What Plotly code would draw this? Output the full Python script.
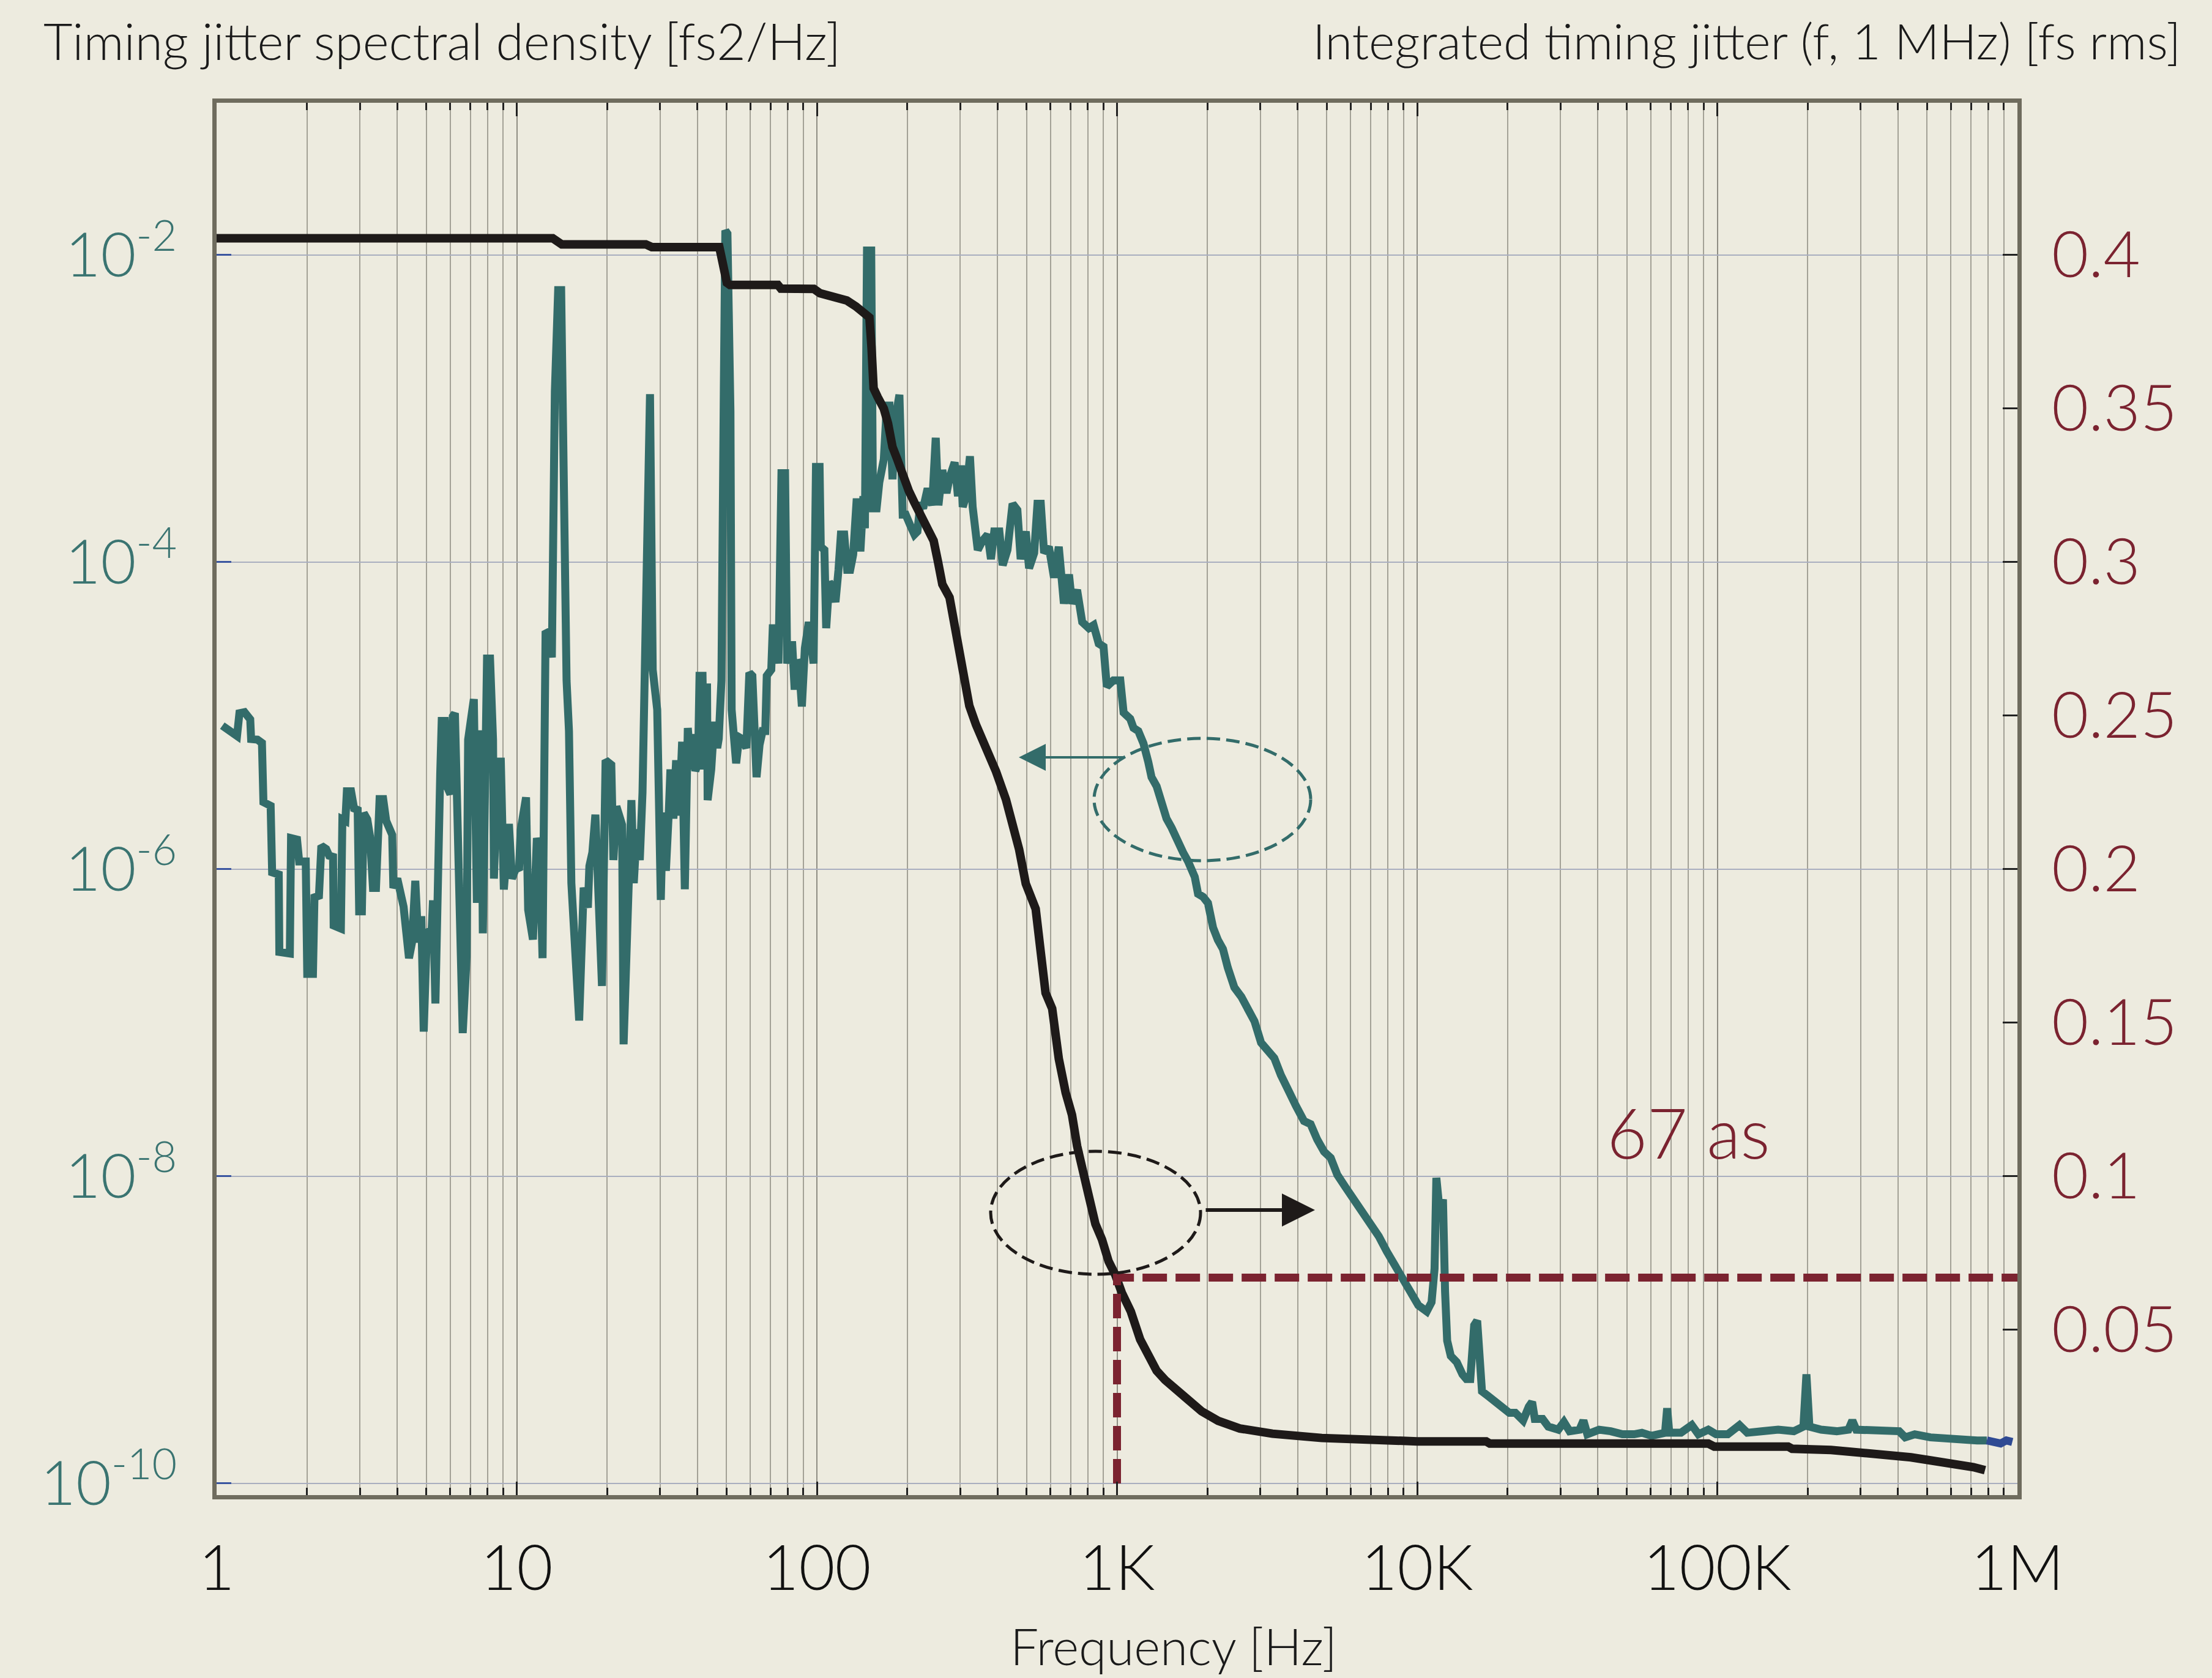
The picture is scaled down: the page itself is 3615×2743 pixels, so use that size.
import plotly.graph_objects as go

# ---------------- data ----------------
# Timing jitter spectral density: log10(frequency / Hz) and log10(PSD / fs^2/Hz)
psd_freq_decade = [
    0.019, 0.039, 0.068, 0.076, 0.093, 0.112, 0.115, 0.136, 0.151, 0.156,
    0.180, 0.185, 0.207, 0.209, 0.244, 0.248, 0.268, 0.275, 0.297, 0.302,
    0.321, 0.326, 0.341, 0.349, 0.365, 0.375, 0.388, 0.390, 0.414, 0.419,
    0.429, 0.434, 0.448, 0.458, 0.470, 0.475, 0.484, 0.490, 0.502, 0.511,
    0.521, 0.531, 0.543, 0.555, 0.565, 0.585, 0.589, 0.602, 0.614, 0.623,
    0.641, 0.651, 0.662, 0.672, 0.682, 0.690, 0.701, 0.716, 0.721, 0.729,
    0.745, 0.750, 0.760, 0.770, 0.779, 0.787, 0.794, 0.813, 0.820, 0.833,
    0.838, 0.857, 0.867, 0.877, 0.882, 0.887, 0.901, 0.911, 0.921, 0.924,
    0.937, 0.947, 0.957, 0.974, 0.984, 0.996, 1.008, 1.013, 1.031, 1.038,
    1.054, 1.067, 1.076, 1.086, 1.096, 1.106, 1.117, 1.127, 1.138, 1.148,
    1.155, 1.166, 1.174, 1.182, 1.208, 1.223, 1.237, 1.242, 1.252, 1.262,
    1.284, 1.296, 1.315, 1.322, 1.332, 1.351, 1.356, 1.382, 1.390, 1.400,
    1.410, 1.419, 1.444, 1.453, 1.468, 1.473, 1.480, 1.487, 1.497, 1.507,
    1.512, 1.522, 1.531, 1.541, 1.551, 1.560, 1.570, 1.580, 1.585, 1.595,
    1.604, 1.609, 1.619, 1.624, 1.634, 1.636, 1.648, 1.658, 1.668, 1.673,
    1.682, 1.690, 1.695, 1.702, 1.712, 1.716, 1.721, 1.731, 1.741, 1.750,
    1.765, 1.775, 1.785, 1.790, 1.799, 1.809, 1.819, 1.828, 1.833, 1.848,
    1.853, 1.862, 1.872, 1.882, 1.894, 1.901, 1.911, 1.918, 1.926, 1.934,
    1.940, 1.950, 1.960, 1.973, 1.989, 1.997, 2.009, 2.013, 2.025, 2.031,
    2.041, 2.051, 2.062, 2.072, 2.080, 2.091, 2.101, 2.111, 2.121, 2.132,
    2.140, 2.145, 2.155, 2.160, 2.167, 2.181, 2.187, 2.199, 2.208, 2.223,
    2.233, 2.242, 2.252, 2.262, 2.275, 2.286, 2.296, 2.311, 2.325, 2.335,
    2.345, 2.354, 2.369, 2.384, 2.396, 2.405, 2.418, 2.432, 2.442, 2.459,
    2.470, 2.480, 2.486, 2.497, 2.510, 2.519, 2.536, 2.552, 2.569, 2.580,
    2.591, 2.608, 2.619, 2.635, 2.652, 2.668, 2.679, 2.696, 2.707, 2.724,
    2.735, 2.746, 2.757, 2.773, 2.790, 2.806, 2.823, 2.840, 2.850, 2.867,
    2.884, 2.906, 2.922, 2.939, 2.955, 2.966, 2.988, 3.011, 3.022, 3.044,
    3.055, 3.071, 3.088, 3.104, 3.115, 3.132, 3.149, 3.165, 3.182, 3.198,
    3.220, 3.237, 3.259, 3.270, 3.287, 3.303, 3.320, 3.336, 3.353, 3.369,
    3.391, 3.414, 3.436, 3.458, 3.480, 3.502, 3.524, 3.546, 3.568, 3.596,
    3.623, 3.645, 3.667, 3.690, 3.712, 3.734, 3.761, 3.789, 3.817, 3.844,
    3.872, 3.899, 3.927, 3.955, 3.982, 4.004, 4.032, 4.048, 4.058, 4.064,
    4.076, 4.086, 4.093, 4.100, 4.112, 4.132, 4.151, 4.164, 4.177, 4.190,
    4.200, 4.210, 4.216, 4.236, 4.255, 4.281, 4.307, 4.327, 4.353, 4.372,
    4.383, 4.392, 4.418, 4.437, 4.470, 4.489, 4.508, 4.541, 4.554, 4.567,
    4.606, 4.645, 4.684, 4.723, 4.749, 4.781, 4.814, 4.826, 4.833, 4.840,
    4.879, 4.915, 4.937, 4.970, 4.996, 5.035, 5.074, 5.100, 5.152, 5.203,
    5.255, 5.287, 5.297, 5.307, 5.346, 5.398, 5.437, 5.450, 5.463, 5.528,
    5.606, 5.626, 5.658, 5.710, 5.762, 5.814, 5.866, 5.898,
]
psd_level_decade = [
    -5.065, -5.095, -5.132, -4.984, -4.977, -5.024, -5.152, -5.156, -5.177, -5.563,
    -5.587, -6.020, -6.034, -6.539, -6.549, -5.797, -5.807, -5.949, -5.949, -6.681,
    -6.681, -6.183, -6.173, -5.847, -5.868, -5.912, -5.919, -6.366, -6.386, -5.675,
    -5.685, -5.492, -5.492, -5.604, -5.614, -6.274, -6.274, -5.634, -5.675, -5.786,
    -6.122, -6.122, -5.543, -5.543, -5.685, -5.776, -6.122, -6.061, -6.152, -6.244,
    -6.579, -6.477, -6.075, -6.477, -6.305, -7.057, -6.396, -6.417, -6.203, -6.874,
    -5.380, -5.034, -5.034, -5.471, -5.512, -5.004, -4.984, -6.356, -7.067, -6.569,
    -5.156, -4.892, -6.193, -6.193, -5.095, -6.417, -4.628, -4.628, -5.156, -6.061,
    -5.299, -5.299, -6.132, -5.705, -6.061, -6.000, -5.990, -5.746, -5.532, -6.264,
    -6.457, -5.797, -5.868, -6.579, -4.465, -4.455, -4.620, -2.888, -2.228, -2.228,
    -3.284, -4.770, -5.100, -6.090, -6.985, -6.120, -6.250, -5.980, -5.890, -5.645,
    -6.760, -5.290, -5.320, -5.940, -5.590, -5.710, -7.140, -5.550, -6.090, -5.740,
    -5.940, -5.500, -2.906, -4.700, -4.960, -5.990, -6.200, -5.630, -6.010, -5.610,
    -5.350, -5.670, -5.290, -5.650, -5.170, -6.130, -5.080, -5.350, -5.120, -5.360,
    -5.310, -4.740, -4.740, -5.350, -4.790, -5.550, -5.350, -5.040, -5.210, -5.150,
    -4.770, -2.870, -1.840, -1.860, -3.020, -4.960, -5.060, -5.310, -5.140, -5.150,
    -5.210, -4.720, -4.740, -4.960, -5.400, -5.190, -5.100, -5.100, -4.740, -4.700,
    -4.430, -4.430, -4.660, -3.420, -3.420, -4.660, -4.540, -4.540, -4.830, -4.640,
    -4.660, -4.940, -4.560, -4.390, -4.660, -3.380, -3.380, -3.900, -3.920, -4.430,
    -4.130, -4.160, -4.260, -4.050, -3.820, -3.820, -4.050, -4.050, -3.950, -3.610,
    -3.610, -3.930, -3.570, -3.780, -1.970, -1.970, -3.650, -3.650, -3.480, -3.330,
    -2.980, -2.980, -3.460, -3.060, -2.910, -3.690, -3.690, -3.760, -3.820, -3.800,
    -3.610, -3.650, -3.520, -3.630, -3.190, -3.630, -3.400, -3.550, -3.450, -3.350,
    -3.570, -3.370, -3.640, -3.570, -3.310, -3.640, -3.920, -3.860, -3.820, -3.980,
    -3.800, -3.800, -4.020, -3.920, -3.620, -3.660, -3.980, -3.800, -4.040, -3.940,
    -3.620, -3.620, -3.940, -3.900, -4.100, -3.900, -4.270, -4.080, -4.270, -4.180,
    -4.390, -4.430, -4.410, -4.530, -4.550, -4.810, -4.770, -4.770, -4.980, -5.020,
    -5.080, -5.100, -5.180, -5.300, -5.400, -5.460, -5.570, -5.670, -5.730, -5.810,
    -5.890, -5.950, -6.050, -6.160, -6.180, -6.220, -6.380, -6.460, -6.520, -6.640,
    -6.770, -6.830, -6.910, -6.990, -7.130, -7.190, -7.230, -7.340, -7.440, -7.540,
    -7.640, -7.660, -7.760, -7.840, -7.880, -7.990, -8.070, -8.150, -8.250, -8.310,
    -8.390, -8.490, -8.580, -8.660, -8.760, -8.840, -8.880, -8.820, -8.600, -8.010,
    -8.250, -8.150, -8.750, -9.070, -9.170, -9.210, -9.290, -9.320, -9.320, -8.970,
    -8.940, -9.320, -9.400, -9.430, -9.460, -9.500, -9.540, -9.540, -9.590, -9.500,
    -9.470, -9.580, -9.580, -9.630, -9.650, -9.600, -9.660, -9.650, -9.590, -9.680,
    -9.650, -9.660, -9.680, -9.680, -9.670, -9.690, -9.670, -9.670, -9.510, -9.670,
    -9.670, -9.620, -9.680, -9.650, -9.680, -9.680, -9.620, -9.670, -9.660, -9.650,
    -9.660, -9.630, -9.290, -9.630, -9.650, -9.660, -9.650, -9.590, -9.650, -9.650,
    -9.660, -9.700, -9.680, -9.700, -9.710, -9.710, -9.720, -9.720,
]
# last short stretch of the spectrum drawn in dark blue
psd_tail_freq_decade = [5.898, 5.918, 5.944, 5.963, 5.983]
psd_tail_level_decade = [-9.72, -9.73, -9.74, -9.72, -9.73]

# Integrated timing jitter (f, 1 MHz) [fs rms]
jitter_freq_decade = [
    0.000, 1.120, 1.150, 1.430, 1.450, 1.675, 1.685, 1.700, 1.710, 1.870,
    1.880, 1.990, 2.010, 2.060, 2.100, 2.130, 2.160, 2.175, 2.182, 2.189,
    2.203, 2.223, 2.237, 2.252, 2.267, 2.286, 2.306, 2.325, 2.345, 2.364,
    2.389, 2.403, 2.418, 2.442, 2.464, 2.486, 2.508, 2.530, 2.563, 2.597,
    2.630, 2.652, 2.674, 2.696, 2.729, 2.746, 2.762, 2.784, 2.806, 2.829,
    2.850, 2.867, 2.884, 2.906, 2.928, 2.950, 2.972, 2.994, 3.016, 3.046,
    3.077, 3.104, 3.132, 3.160, 3.193, 3.228, 3.282, 3.337, 3.409, 3.518,
    3.682, 3.846, 4.000, 4.230, 4.242, 4.970, 4.990, 5.236, 5.249, 5.379,
    5.502, 5.580, 5.645, 5.710, 5.762, 5.814, 5.853, 5.892,
]
jitter_fs = [
    0.4055, 0.4055, 0.4035, 0.4035, 0.4026, 0.4026, 0.3980, 0.3910, 0.3903, 0.3903,
    0.3891, 0.3890, 0.3876, 0.3866, 0.3852, 0.3833, 0.3812, 0.3797, 0.3700, 0.3566,
    0.3537, 0.3500, 0.3452, 0.3375, 0.3337, 0.3280, 0.3233, 0.3194, 0.3156, 0.3118,
    0.3070, 0.3004, 0.2928, 0.2885, 0.2766, 0.2654, 0.2532, 0.2471, 0.2400, 0.2318,
    0.2227, 0.2156, 0.2064, 0.1953, 0.1871, 0.1729, 0.1597, 0.1546, 0.1383, 0.1272,
    0.1200, 0.1099, 0.1018, 0.0936, 0.0845, 0.0794, 0.0723, 0.0680, 0.0621, 0.0560,
    0.0469, 0.0418, 0.0367, 0.0337, 0.0306, 0.0280, 0.0235, 0.0204, 0.0179, 0.0162,
    0.0148, 0.0140, 0.0137, 0.0137, 0.0130, 0.0130, 0.0120, 0.0120, 0.0113, 0.0109,
    0.0099, 0.0092, 0.0085, 0.0075, 0.0068, 0.0060, 0.0053, 0.0043,
]

# 67 as marker at 1 kHz
marker_freq_hz = [1000, 1000, 1.0e6]
marker_jitter_fs = [0.0, 0.067, 0.067]
marker_label = "67 as"

x_tick_vals = [1, 10, 100, 1e3, 1e4, 1e5, 1e6]
x_tick_text = ["1", "10", "100", "1K", "10K", "100K", "1M"]
y_tick_vals = [1e-2, 1e-4, 1e-6, 1e-8, 1e-10]
y_tick_text = ["10<sup>-2</sup>", "10<sup>-4</sup>", "10<sup>-6</sup>",
               "10<sup>-8</sup>", "10<sup>-10</sup>"]
y2_tick_vals = [0.05, 0.1, 0.15, 0.2, 0.25, 0.3, 0.35, 0.4]
y2_tick_text = ["0.05", "0.1", "0.15", "0.2", "0.25", "0.3", "0.35", "0.4"]

assert len(psd_freq_decade) == len(psd_level_decade)
assert len(jitter_freq_decade) == len(jitter_fs)

psd_freq = [10 ** d for d in psd_freq_decade]
psd_val = [10 ** d for d in psd_level_decade]
tail_freq = [10 ** d for d in psd_tail_freq_decade]
tail_val = [10 ** d for d in psd_tail_level_decade]
jit_freq = [10 ** d for d in jitter_freq_decade]

# ---------------- style ----------------
BG = "#EDEBDF"
TEAL = "#336C6A"
BLACK = "#1E1A19"
RED = "#7B2330"
FRAME = "#6F6C5E"
FONT = "Lato, 'Open Sans', sans-serif"

W, H = 3615, 2743
L, R, T, B = 354, 318, 168, 299
PW, PH = W - L - R, H - T - B


def px(X):
    return (X - L) / PW


def py(Y):
    return (H - B - Y) / PH


minor_x = [m * 10 ** e for e in range(0, 6) for m in range(2, 10)]

fig = go.Figure()
fig.add_trace(go.Scatter(x=psd_freq, y=psd_val, mode="lines",
                         line=dict(color=TEAL, width=13), yaxis="y",
                         showlegend=False, hoverinfo="skip"))
fig.add_trace(go.Scatter(x=tail_freq, y=tail_val, mode="lines",
                         line=dict(color="#2F4A93", width=13), yaxis="y",
                         showlegend=False, hoverinfo="skip"))
fig.add_trace(go.Scatter(x=jit_freq, y=jitter_fs, mode="lines",
                         line=dict(color=BLACK, width=14), yaxis="y2",
                         showlegend=False, hoverinfo="skip"))
fig.add_trace(go.Scatter(x=marker_freq_hz, y=marker_jitter_fs, mode="lines",
                         line=dict(color=RED, width=13, dash="40px,14px"),
                         yaxis="y2", showlegend=False, hoverinfo="skip"))

fig.update_layout(
    width=W, height=H,
    margin=dict(l=L, r=R, t=T, b=B, pad=0),
    paper_bgcolor=BG, plot_bgcolor=BG,
    font=dict(family=FONT, color="#1a1a1a", weight=300),
    xaxis=dict(
        type="log", range=[0, 6],
        tickmode="array", tickvals=x_tick_vals, ticktext=x_tick_text,
        tickfont=dict(size=102, color="#111111", family=FONT, weight=300),
        ticklabelstandoff=26,
        showgrid=True, gridcolor="#8F8D83", gridwidth=2,
        ticks="inside", ticklen=22, tickwidth=3, tickcolor="#222222",
        minor=dict(tickmode="array", tickvals=minor_x, showgrid=True,
                   gridcolor="#A3A196", gridwidth=1.5, ticks="inside",
                   ticklen=12, tickwidth=3, tickcolor="#222222"),
        showline=True, linecolor=FRAME, linewidth=7, mirror="ticks",
        zeroline=False,
    ),
    yaxis=dict(
        type="log", range=[-10.076, -1.008],
        tickmode="array", tickvals=y_tick_vals, ticktext=y_tick_text,
        tickfont=dict(size=100, color="#3A7471", family=FONT, weight=300),
        ticklabelstandoff=38,
        showgrid=True, gridcolor="#A9AEBF", gridwidth=2,
        ticks="inside", ticklen=24, tickwidth=3, tickcolor="#3A55A0",
        showline=True, linecolor=FRAME, linewidth=7, mirror=True,
        zeroline=False,
    ),
    yaxis2=dict(
        overlaying="y", side="right", range=[-0.0038, 0.4496],
        tickmode="array", tickvals=y2_tick_vals, ticktext=y2_tick_text,
        tickfont=dict(size=104, color=RED, family=FONT, weight=300),
        ticklabelstandoff=55,
        showgrid=False, zeroline=False, showline=False,
        ticks="inside", ticklen=24, tickwidth=3, tickcolor="#222222",
    ),
    shapes=[
        dict(type="circle", xref="paper", yref="paper",
             x0=px(1788), x1=px(2142), y0=py(1407), y1=py(1207),
             line=dict(color=TEAL, width=5, dash="22px,10px")),
        dict(type="circle", xref="paper", yref="paper",
             x0=px(1619), x1=px(1962), y0=py(2083), y1=py(1882),
             line=dict(color=BLACK, width=5, dash="22px,10px")),
    ],
    annotations=[
        dict(text="Timing jitter spectral density [fs2/Hz]", xref="paper", yref="paper",
             x=px(69), y=py(66), xanchor="left", yanchor="middle", showarrow=False,
             font=dict(size=82, color="#1a1a1a", family=FONT, weight=300)),
        dict(text="Integrated timing jitter (f, 1 MHz) [fs rms]", xref="paper", yref="paper",
             x=px(3566), y=py(66), xanchor="right", yanchor="middle", showarrow=False,
             font=dict(size=81, color="#1a1a1a", family=FONT, weight=300)),
        dict(text="Frequency [Hz]", xref="paper", yref="paper",
             x=px(1918), y=py(2690), xanchor="center", yanchor="middle", showarrow=False,
             font=dict(size=82, color="#1a1a1a", family=FONT, weight=300)),
        dict(text=marker_label, xref="paper", yref="paper",
             x=px(2759), y=py(1849), xanchor="center", yanchor="middle", showarrow=False,
             font=dict(size=114, color=RED, family=FONT, weight=300)),
        dict(text="", xref="paper", yref="paper", x=px(1665), y=py(1238),
             showarrow=True, ax=172, ay=0, arrowhead=2, arrowsize=2.2,
             arrowwidth=4, arrowcolor=TEAL),
        dict(text="", xref="paper", yref="paper", x=px(2149), y=py(1978),
             showarrow=True, ax=-180, ay=0, arrowhead=2, arrowsize=1.8,
             arrowwidth=6, arrowcolor=BLACK),
    ],
)

fig.write_html("out.html", config={"displayModeBar": False},
               post_script="document.body.style.margin='0px';document.body.style.overflow='hidden';")
